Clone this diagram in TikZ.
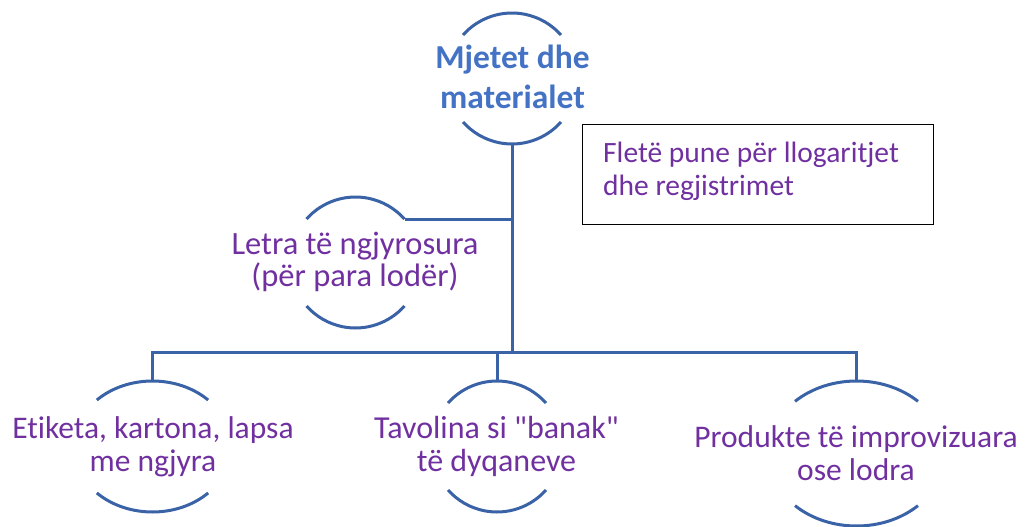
\documentclass[tikz,border=0pt]{standalone}
\usepackage{fontspec}
\setmainfont[Ligatures={NoCommon}]{Carlito}
\usetikzlibrary{shapes.geometric,calc}
\definecolor{linec}{HTML}{3A62A6}
\definecolor{titlec}{HTML}{4472C4}
\definecolor{purp}{HTML}{7030A0}
\newcommand{\twolines}[2]{\setlength{\tabcolsep}{0pt}\renewcommand{\arraystretch}{1}\begin{tabular}[t]{c}#1\\#2\end{tabular}}
\newcommand{\twolinesl}[2]{\setlength{\tabcolsep}{0pt}\renewcommand{\arraystretch}{1}\begin{tabular}[t]{l}#1\\#2\end{tabular}}
\tikzset{
  holder/.style={ellipse, inner sep=0pt, draw=none},
  conn/.style={draw=linec, line width=3pt},
  arcline/.style={draw=linec, line width=3pt},
  lbl/.style={anchor=base, inner sep=0pt, text=purp},
}
\begin{document}
\begin{tikzpicture}[x=1pt,y=-1pt]
\useasboundingbox (0,0) rectangle (1025,527);
% shape holders
\node[holder, minimum width=131pt, minimum height=131pt] (T) at (512,78.5) {};
\node[holder, minimum width=131pt, minimum height=131pt] (L) at (355.5,262.5) {};
\node[holder, minimum width=158pt, minimum height=131pt] (E) at (152.5,446.5) {};
\node[holder, minimum width=131pt, minimum height=131pt] (M) at (497,446.5) {};
\node[holder, minimum width=177pt, minimum height=145pt] (P) at (856.5,453.5) {};
% arcs
\foreach \c/\rx/\ry/\t in {T/65.5/65.5/41.6, L/65.5/65.5/41.6, E/79/65.5/45.2, M/65.5/65.5/41.6, P/88.5/72.5/46}{
  \draw[arcline] ($(\c.center)+({180+\t}:{\rx} and {\ry})$) arc[start angle=180+\t, end angle=360-\t, x radius=\rx, y radius=\ry];
  \draw[arcline] ($(\c.center)+({\t}:{\rx} and {\ry})$) arc[start angle=\t, end angle=180-\t, x radius=\rx, y radius=\ry];
}
% connectors
\coordinate (bus) at (512,352);
\draw[conn] (T.south) -- (T.south |- bus);
\draw[conn] (E.north) -- (E.north |- bus) -- (P.north |- bus) -- (P.north);
\draw[conn] (M.north) -- (M.north |- bus);
\draw[conn] (L.41.6) -- (L.41.6 -| T.south);
% box
\node[draw=black, line width=1.2pt, minimum width=351pt, minimum height=100pt, anchor=north west, inner sep=0pt] (B) at (582,124) {};
% texts
\node[lbl, text=titlec, font=\fontsize{33.5}{40}\selectfont\bfseries] (Tt) at (512.5,68) {\twolines{Mjetet dhe}{materialet}};
\node[lbl, font=\fontsize{32.5}{30.5}\selectfont] (Lt) at (355,254) {\twolines{Letra të ngjyrosura}{(për para lodër)}};
\node[lbl, font=\fontsize{31.5}{33}\selectfont] (Et) at (153,438) {\twolines{Etiketa, kartona, lapsa}{me ngjyra}};
\node[lbl, font=\fontsize{32}{33.5}\selectfont] (Mt) at (496.5,438) {\twolines{Tavolina si \textquotedbl banak\textquotedbl}{të dyqaneve}};
\node[lbl, font=\fontsize{31.5}{33}\selectfont] (Pt) at (856,447) {\twolines{Produkte të improvizuara}{ose lodra}};
\node[lbl, anchor=base west, font=\fontsize{29.5}{33}\selectfont] (Bt) at (603,162) {\twolinesl{Fletë pune për llogaritjet}{dhe regjistrimet}};
\end{tikzpicture}
\end{document}
